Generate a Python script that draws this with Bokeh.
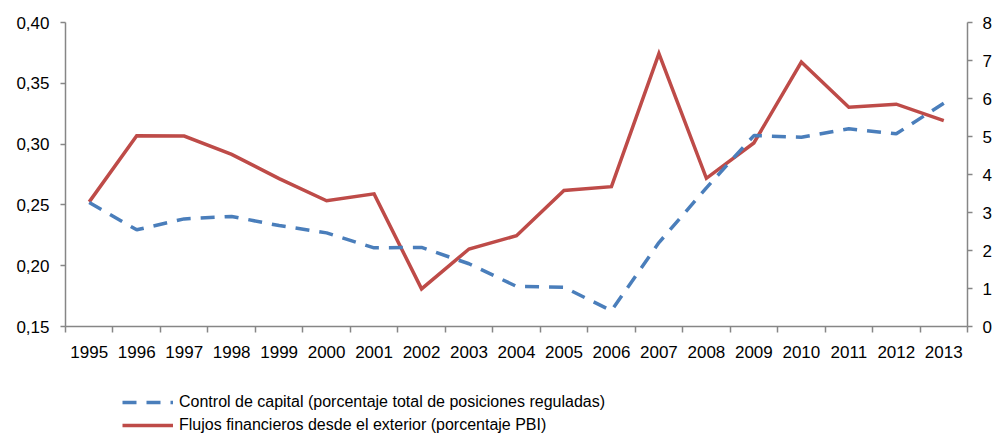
from bokeh.plotting import figure
from bokeh.layouts import column
from bokeh.models import (Range1d, LinearAxis, FixedTicker, CustomJSTickFormatter,
                          Legend, LegendItem, ColumnDataSource)
from bokeh.embed import file_html
from bokeh.resources import INLINE

years = [1995, 1996, 1997, 1998, 1999, 2000, 2001, 2002, 2003, 2004,
         2005, 2006, 2007, 2008, 2009, 2010, 2011, 2012, 2013]
control_capital = [0.252, 0.2295, 0.2385, 0.2405, 0.233, 0.227, 0.2147, 0.215, 0.2016, 0.183,
                   0.1823, 0.163, 0.219, 0.264, 0.307, 0.3057, 0.3126, 0.3085, 0.3336]
flujos_financieros = [3.28, 5.02, 5.01, 4.53, 3.89, 3.31, 3.49, 0.99, 2.04, 2.39,
                      3.58, 3.68, 7.18, 3.90, 4.83, 6.96, 5.77, 5.85, 5.42]
left_ticks = [0.15, 0.20, 0.25, 0.30, 0.35, 0.40]
right_ticks = [0, 1, 2, 3, 4, 5, 6, 7, 8]
label_control = "Control de capital (porcentaje total de posiciones reguladas)"
label_flujos = "Flujos financieros desde el exterior (porcentaje PBI)"

BLUE = "#4a7ebb"
RED = "#be4b48"
AXIS = "#868686"
FONT = "Liberation Sans"

W = 995
H_MAIN = 372
H_LEG = 437 - H_MAIN
FL, FR, FT, FB = 65, 967, 22, 326

src = ColumnDataSource(dict(year=years, cc=control_capital, ff=flujos_financieros))

p = figure(width=W, height=H_MAIN, output_backend="svg", toolbar_location=None,
           x_range=Range1d(years[0] - 0.5, years[-1] + 0.5),
           y_range=Range1d(0.15, 0.40),
           min_border_left=FL, min_border_right=W - FR,
           min_border_top=FT, min_border_bottom=H_MAIN - FB,
           x_axis_location="below", y_axis_location="left")
p.extra_y_ranges = {"right": Range1d(0, 8)}
p.outline_line_color = None
p.xgrid.visible = False
p.ygrid.visible = False
p.background_fill_color = "white"
p.border_fill_color = "white"

# x axis: labels at centres, tick marks at boundaries (minor ticks)
xa = p.xaxis[0]
xa.ticker = FixedTicker(ticks=years, minor_ticks=[y - 0.5 for y in years] + [years[-1] + 0.5])
xa.major_tick_out = 0
xa.major_tick_in = 0
xa.minor_tick_out = 6
xa.minor_tick_in = 0
xa.minor_tick_line_color = AXIS
xa.minor_tick_line_width = 1.5
xa.axis_line_color = AXIS
xa.axis_line_width = 1.5
xa.major_label_standoff = 13
xa.major_label_text_font = FONT
xa.major_label_text_font_size = "17px"
xa.major_label_text_color = "#000000"
xa.formatter = CustomJSTickFormatter(code="return String(Math.round(tick));")

ya = p.yaxis[0]
ya.ticker = FixedTicker(ticks=left_ticks, minor_ticks=[])
ya.formatter = CustomJSTickFormatter(code="return tick.toFixed(2).replace('.', ',');")
ya.major_tick_out = 5
ya.major_tick_in = 0
ya.minor_tick_out = 0
ya.minor_tick_in = 0
ya.axis_line_color = AXIS
ya.axis_line_width = 1.5
ya.major_tick_line_color = AXIS
ya.major_tick_line_width = 1.5
ya.major_label_standoff = 11
ya.major_label_text_font = FONT
ya.major_label_text_font_size = "17px"
ya.major_label_text_color = "#000000"

ra = LinearAxis(y_range_name="right",
                ticker=FixedTicker(ticks=right_ticks, minor_ticks=[]),
                major_tick_out=5, major_tick_in=0, minor_tick_out=0, minor_tick_in=0,
                axis_line_color=AXIS, axis_line_width=1.5,
                major_tick_line_color=AXIS, major_tick_line_width=1.5,
                major_label_standoff=10, major_label_text_font=FONT,
                major_label_text_font_size="17px", major_label_text_color="#000000")
p.add_layout(ra, "right")

p.line("year", "ff", source=src, y_range_name="right",
       line_color=RED, line_width=3.5, line_join="miter")
p.line("year", "cc", source=src, line_color=BLUE, line_width=3.5,
       line_dash="14 10")

# legend strip below the chart (its frame is aligned with the chart's frame)
lf = figure(width=W, height=H_LEG, output_backend="svg", toolbar_location=None,
            x_range=Range1d(0, 1), y_range=Range1d(0, 1),
            min_border_left=0, min_border_right=0, min_border_top=0, min_border_bottom=0)
lf.axis.visible = False
lf.grid.visible = False
lf.outline_line_color = None
lf.border_fill_color = "white"
lf.background_fill_color = "white"
# same series drawn here only to carry the legend swatches (data lies outside this view)
g_cc = lf.line("year", "cc", source=src, line_color=BLUE, line_width=3.5, line_dash="14 10")
g_ff = lf.line("year", "ff", source=src, line_color=RED, line_width=3.5)

legend = Legend(items=[LegendItem(label=label_control, renderers=[g_cc]),
                       LegendItem(label=label_flujos, renderers=[g_ff])],
                location=(57, 2), orientation="vertical",
                padding=0, margin=0, spacing=3,
                glyph_width=51, glyph_height=20, label_height=20,
                label_standoff=6, label_text_font=FONT,
                label_text_font_size="16px", label_text_color="#000000",
                border_line_color=None, background_fill_alpha=0)
lf.add_layout(legend, "center")

layout = column(p, lf, spacing=0)
open("out.html", "w").write(file_html(layout, INLINE))
